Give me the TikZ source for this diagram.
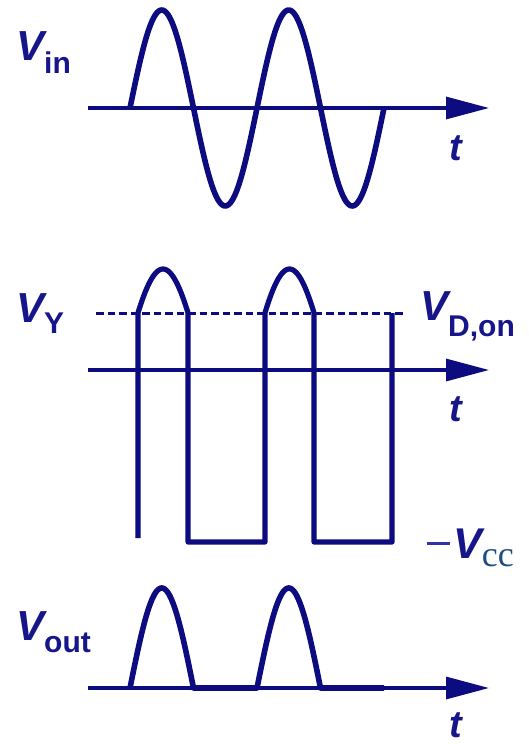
\documentclass[tikz,border=0pt]{standalone}
\usepackage{fontspec}
\setmainfont{Liberation Sans}
\newfontfamily\serifit{Liberation Serif}
\usetikzlibrary{arrows.meta}
\definecolor{wavecol}{RGB}{12,12,128}
\definecolor{txtcol}{RGB}{22,22,138}
\definecolor{cccol}{RGB}{30,78,125}
\definecolor{minuscol}{RGB}{50,50,170}
\tikzset{
  axisline/.style={draw=wavecol, line width=3.2pt, -{Triangle[length=43pt,width=22pt]}},
  wave/.style={draw=wavecol, line width=5.6pt, line join=round},
  sqwave/.style={draw=wavecol, line width=5.2pt, line join=round},
  refline/.style={draw=wavecol, line width=3pt, dash pattern=on 7.5pt off 4pt},
  lbl/.style={inner sep=0pt, anchor=base west, text=txtcol},
}
\newcommand{\bigV}{{\fontsize{42}{42}\selectfont\bfseries\itshape V}}
\newcommand{\subtxt}[2]{\raisebox{-#1}{\fontsize{30}{30}\selectfont\bfseries #2}}
\newcommand{\tlbl}{{\fontsize{38}{38}\selectfont\bfseries\itshape t}}
\begin{document}
\begin{tikzpicture}[x=1pt,y=-1pt]
\path[use as bounding box] (0,0) rectangle (529,744);
% ---------- top: V_in ----------
\coordinate (a1s) at (88,108);
\coordinate (a1e) at (489,108);
\draw[axisline] (a1s) -- (a1e);
\draw[wave] plot[domain=130:384, samples=160, smooth] (\x, {108-98*sin(2.834646*(\x-130))});
\node[lbl] (vin) at (16,60) {\bigV\subtxt{13pt}{in}};
\node[lbl] (t1) at (449,160) {\tlbl};
% ---------- middle: V_Y ----------
\coordinate (a2s) at (88,370);
\coordinate (a2e) at (489,370);
\draw[axisline] (a2s) -- (a2e);
\coordinate (d1) at (96,313);
\coordinate (d2) at (405,313);
\draw[refline] (d1) -- (d2);
\draw[sqwave] (138,538) -- (138,313)
  -- plot[domain=0:1, samples=40, smooth] ({138+50*\x},{370-101*sin(34.5+111*\x)})
  -- (188,542) -- (265,542) -- (265,313)
  -- plot[domain=0:1, samples=40, smooth] ({265+49*\x},{370-101*sin(34.5+111*\x)})
  -- (314,542) -- (392,542) -- (392,313);
\node[lbl] (vy) at (16,322) {\bigV\subtxt{11pt}{Y}};
\node[lbl] (vdon) at (420,320) {\bigV\subtxt{16pt}{D,on}};
\node[lbl] (t2) at (449,421) {\tlbl};
\node[lbl] (vcc) at (427,558) {{\color{minuscol}\raisebox{13pt}{\rule{23pt}{2.8pt}}}\hspace{3pt}{\fontsize{43}{43}\selectfont\bfseries\itshape V}\raisebox{-8pt}{\fontsize{36}{36}\selectfont\serifit\color{cccol}cc}};
% ---------- bottom: V_out ----------
\coordinate (a3s) at (88,688);
\coordinate (a3e) at (489,688);
\draw[axisline] (a3s) -- (a3e);
\draw[wave] plot[domain=130:193.5, samples=60, smooth] (\x, {688-100*sin(2.834646*(\x-130))})
  -- (257,688)
  -- plot[domain=257:320.5, samples=60, smooth] (\x, {688-100*sin(2.834646*(\x-257))})
  -- (384,688);
\node[lbl] (vout) at (16,640) {\bigV\subtxt{12pt}{out}};
\node[lbl] (t3) at (449,737) {\tlbl};
\end{tikzpicture}
\end{document}
